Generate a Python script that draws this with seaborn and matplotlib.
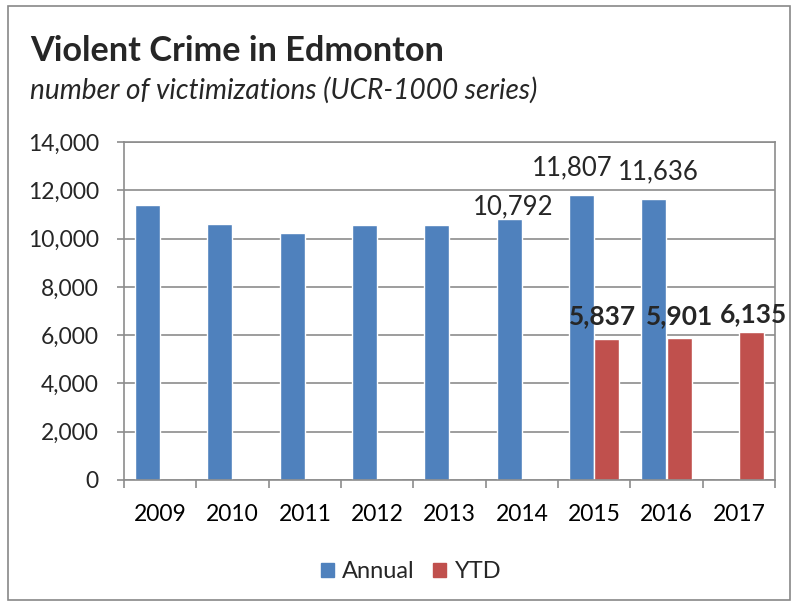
import matplotlib
matplotlib.use("Agg")
import matplotlib.pyplot as plt
import seaborn as sns
import pandas as pd
from matplotlib.patches import Rectangle

years = ["2009", "2010", "2011", "2012", "2013", "2014", "2015", "2016", "2017"]
annual = [11390, 10600, 10230, 10570, 10570, 10792, 11807, 11636, None]
ytd = [None, None, None, None, None, None, 5837, 5901, 6135]
series_names = ["Annual", "YTD"]
colors = ["#4F81BD", "#C0504D"]
yticks = [0, 2000, 4000, 6000, 8000, 10000, 12000, 14000]
annual_labeled = ["2014", "2015", "2016"]
ytd_labeled = ["2015", "2016", "2017"]

rows = []
for i, y in enumerate(years):
    rows.append({"year": y, "series": "Annual", "value": annual[i] if annual[i] is not None else 0})
    rows.append({"year": y, "series": "YTD", "value": ytd[i] if ytd[i] is not None else 0})
df = pd.DataFrame(rows)

sns.set_theme(style="white")
plt.rcParams["font.family"] = ["Lato", "DejaVu Sans"]

fig = plt.figure(figsize=(7.99, 6.07), dpi=100)
fig.patches.append(Rectangle((8/799, 1-600/607), (790-8)/799, (600-6)/607,
                             transform=fig.transFigure, fill=False,
                             edgecolor="#888888", linewidth=1.2))

ax = fig.add_axes([124/799, 1-480/607, (775-124)/799, (480-142)/607])
sns.barplot(data=df, x="year", y="value", hue="series", order=years,
            hue_order=series_names, palette=colors, width=0.7,
            saturation=1, ax=ax, legend=False, errorbar=None)

ax.set_ylim(0, 14000)
ax.set_xlim(-0.5, len(years) - 0.5)
ax.set_yticks(yticks)
ax.set_yticklabels([f"{v:,}" for v in yticks])
ax.yaxis.grid(True, color="#8c8c8c", linewidth=1.2)
ax.set_axisbelow(True)
for s in ax.spines.values():
    s.set_color("#8c8c8c")
    s.set_linewidth(1.2)
ax.set_xlabel("")
ax.set_ylabel("")
ax.set_xticks([i - 0.5 for i in range(len(years) + 1)], minor=False)
ax.set_xticklabels([""] * (len(years) + 1))
ax.set_xticks(range(len(years)), minor=True)
ax.set_xticklabels(years, minor=True)
ax.tick_params(axis="x", which="major", length=6, color="#8c8c8c", width=1.2, bottom=True)
ax.tick_params(axis="x", which="minor", length=0, labelsize=16.5, pad=17, colors="black")
ax.tick_params(axis="y", length=5, color="#8c8c8c", width=1.2, left=True, labelsize=16.5, pad=13)

# labels
ann_container, ytd_container = ax.containers[0], ax.containers[1]
ann_offsets = {"2014": (3, 3.6), "2015": (-6.5, 14.4), "2016": (3, 14.4)}
ytd_offsets = {"2015": (-3, 10.8), "2016": (0, 9.7), "2017": (1.5, 7.2)}
for i, y in enumerate(years):
    if y in annual_labeled:
        p = ann_container.patches[i]
        dx, dy = ann_offsets[y]
        ax.annotate(f"{annual[i]:,}", (p.get_x() + p.get_width()/2, p.get_height()),
                    xytext=(dx, dy), textcoords="offset points", ha="center", va="baseline",
                    fontsize=18.5)
    if y in ytd_labeled:
        p = ytd_container.patches[i]
        dx, dy = ytd_offsets[y]
        ax.annotate(f"{ytd[i]:,}", (p.get_x() + p.get_width()/2, p.get_height()),
                    xytext=(dx, dy), textcoords="offset points", ha="center", va="baseline",
                    fontsize=19, fontweight="bold")

fig.text(30/799, 1-61/607, "Violent Crime in Edmonton", fontsize=24.7, fontweight="bold",
         ha="left", va="baseline")
fig.text(30/799, 1-99/607, "number of victimizations (UCR-1000 series)", fontsize=20.2,
         style="italic", ha="left", va="baseline")

handles = [Rectangle((0, 0), 1, 1, color=c) for c in colors]
fig.legend(handles, series_names, loc="center", bbox_to_anchor=(411/799, 1-572/607),
           ncol=2, frameon=False, fontsize=17, handlelength=0.55, handleheight=0.55,
           handletextpad=0.35, columnspacing=0.8)

fig.savefig("out.png", dpi=100)
